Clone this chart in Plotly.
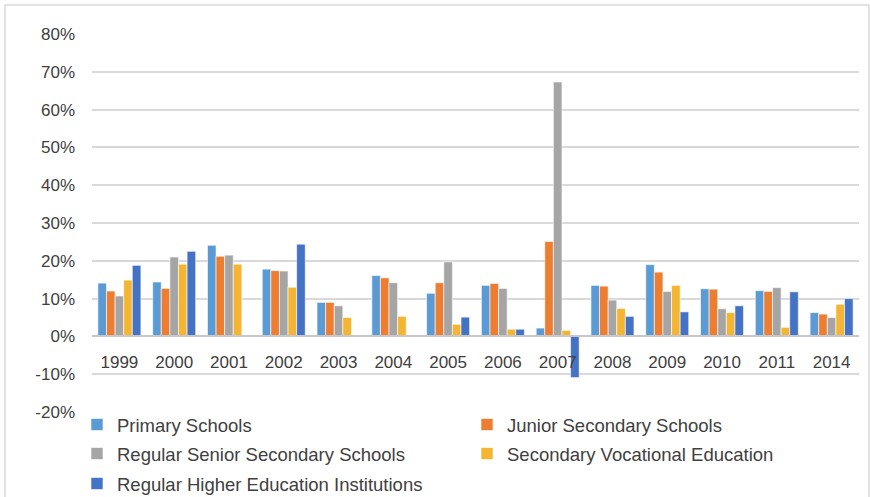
import plotly.graph_objects as go

years = ["1999", "2000", "2001", "2002", "2003", "2004", "2005", "2006",
         "2007", "2008", "2009", "2010", "2011", "2014"]

primary = [14.1, 14.4, 24.1, 17.8, 9.0, 16.1, 11.4, 13.5, 2.2, 13.5, 19.0, 12.6, 12.1, 6.3]
junior = [12.0, 12.7, 21.2, 17.4, 9.0, 15.5, 14.2, 14.0, 25.1, 13.3, 17.0, 12.5, 11.9, 5.9]
senior = [10.7, 21.0, 21.5, 17.3, 8.1, 14.2, 19.7, 12.7, 67.3, 9.6, 11.9, 7.3, 12.9, 5.0]
vocational = [14.9, 19.1, 19.1, 13.0, 5.0, 5.3, 3.2, 1.9, 1.6, 7.4, 13.5, 6.3, 2.4, 8.5]
higher = [18.8, 22.5, None, 24.4, None, 0.3, 5.1, 1.9, -10.9, 5.3, 6.5, 8.1, 11.8, 10.0]

series_names = ["Primary Schools", "Junior Secondary Schools",
                "Regular Senior Secondary Schools", "Secondary Vocational Education",
                "Regular Higher Education Institutions"]
series_values = [primary, junior, senior, vocational, higher]
colors = ["#5B9BD5", "#ED7D31", "#A5A5A5", "#F4B532", "#4472C4"]
legend_ids = ["legend", "legend2", "legend3", "legend4", "legend5"]

y_ticks = [-0.2, -0.1, 0, 0.1, 0.2, 0.3, 0.4, 0.5, 0.6, 0.7, 0.8]
y_tick_text = ["-20%", "-10%", "0%", "10%", "20%", "30%", "40%", "50%", "60%", "70%", "80%"]

FONT = "Liberation Sans, Arial, sans-serif"
TXT = "#404040"
W, H = 870, 497

fig = go.Figure()
for name, vals, col, lg in zip(series_names, series_values, colors, legend_ids):
    fig.add_trace(go.Bar(
        x=years,
        y=[v / 100 if v is not None else None for v in vals],
        name=name, legend=lg,
        marker=dict(color=col, line=dict(color="white", width=0.6)),
    ))


def legend_at(left_px, center_px):
    return dict(
        orientation="h", xref="container", yref="container",
        x=left_px / W, xanchor="left", y=(H - center_px) / H, yanchor="middle",
        font=dict(family=FONT, size=18.5, color=TXT),
        itemwidth=30, bgcolor="rgba(0,0,0,0)",
    )


fig.update_layout(
    width=W, height=H,
    margin=dict(l=92, r=11, t=34, b=85, autoexpand=False),
    paper_bgcolor="white", plot_bgcolor="white",
    barmode="group", bargap=0.215, bargroupgap=0,
    font=dict(family=FONT, size=17, color=TXT),
    showlegend=True,
    legend=legend_at(77, 425),
    legend2=legend_at(467, 425),
    legend3=legend_at(77, 454),
    legend4=legend_at(467, 454),
    legend5=legend_at(77, 484),
    xaxis=dict(
        type="category", anchor="free", position=0.2,
        showline=True, linecolor="#C8C8C8", linewidth=2,
        showgrid=False, ticks="", ticklabelstandoff=10,
        tickfont=dict(family=FONT, size=17, color=TXT),
    ),
    yaxis=dict(
        range=[-0.2, 0.8], tickvals=y_ticks, ticktext=y_tick_text,
        showgrid=True, gridcolor="#D9D9D9", gridwidth=1.5,
        zeroline=False, showline=False, ticks="",
        ticklabelstandoff=16,
        tickfont=dict(family=FONT, size=17, color=TXT),
    ),
    shapes=[dict(type="rect", xref="paper", yref="paper",
                 x0=(5 - 92) / 767, x1=(869 - 92) / 767,
                 y0=(412 - 500) / 378, y1=(412 - 5) / 378,
                 line=dict(color="#D9D9D9", width=1.5), fillcolor="rgba(0,0,0,0)",
                 layer="below")],
)

fig.write_html("out.html")
